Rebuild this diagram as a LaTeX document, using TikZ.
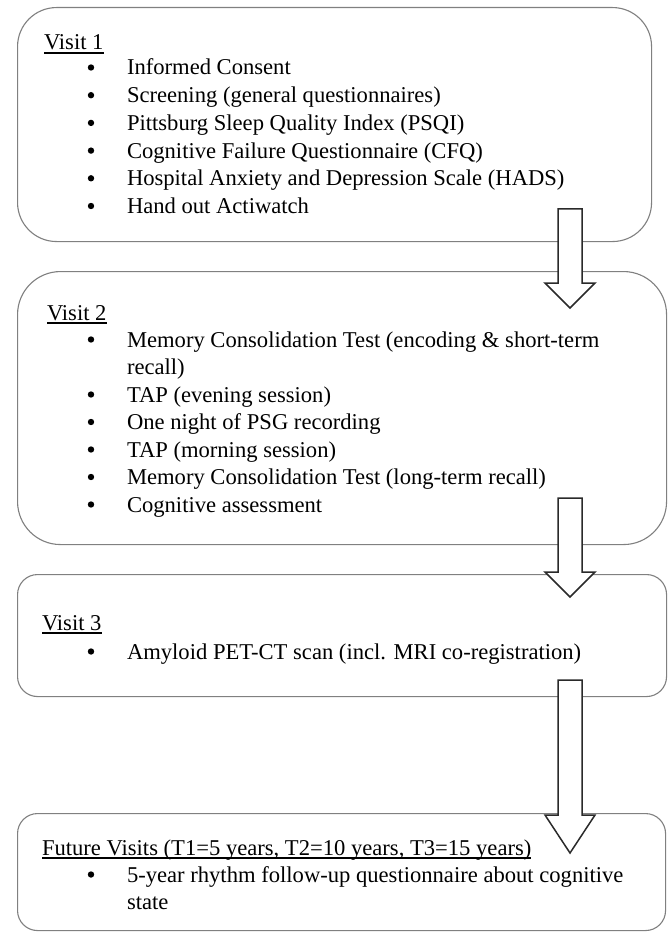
\documentclass[tikz,border=0pt]{standalone}
\usepackage{fontspec}
\setmainfont{Liberation Serif}
\definecolor{boxgray}{HTML}{808080}
\definecolor{arrowdark}{HTML}{2A2A2A}
\newcommand\myul[1]{\setbox0\hbox{#1}\rlap{\vrule height -2.2pt depth 3.7pt width \wd0}\box0}
\tikzset{
  visitbox/.style={draw=boxgray, line width=1.1pt, rectangle, anchor=north west, inner sep=0pt},
  txt/.style={anchor=base west, inner sep=0pt, outer sep=0pt, font=\fontsize{22.6}{27.5}\selectfont},
  dotmark/.style={circle, fill=black, inner sep=0pt, minimum size=6.4pt},
  blockarrow/.style={draw=arrowdark, fill=white, line width=1.5pt, line join=miter}
}
\newcommand\blockarr[4]{% name, top y, head y, tip y  (center x = 570)
  \coordinate (#1-top) at (570,#2);
  \coordinate (#1-tip) at (570,#4);
  \draw[blockarrow] (558,#2) -- (582,#2) -- (582,#3) -- (595,#3) -- (#1-tip)
     -- (545,#3) -- (558,#3) -- cycle;}
\begin{document}
\begin{tikzpicture}[x=1pt,y=-1pt]
\useasboundingbox (0,0) rectangle (670,933);
\fill[white] (0,0) rectangle (670,933);

% boxes
\node[visitbox, rounded corners=39pt, minimum width=634pt, minimum height=234pt] (v1) at (17,7) {};
\node[visitbox, rounded corners=43pt, minimum width=649pt, minimum height=273pt] (v2) at (17,271) {};
\node[visitbox, rounded corners=20pt, minimum width=649pt, minimum height=122pt] (v3) at (17,574) {};
\node[visitbox, rounded corners=20pt, minimum width=648pt, minimum height=117pt] (v4) at (17,813) {};

% Visit 1
\node[txt] (h1) at (44,50) {\myul{Visit 1}};
\foreach \t [count=\i] in {Informed Consent,
  Screening (general questionnaires),
  Pittsburg Sleep Quality Index (PSQI),
  Cognitive Failure Questionnaire (CFQ),
  Hospital Anxiety and Depression Scale (HADS),
  Hand out Actiwatch}{
  \pgfmathsetmacro\yy{75+(\i-1)*27.7}
  \node[dotmark] (d1-\i) at (91,\yy-7.5) {};
  \node[txt] (t1-\i) at (127,\yy) {\t};
}

% Visit 2
\node[txt] (h2) at (47,320) {\myul{Visit 2}};
\node[dotmark] (d2-1) at (91,347-7.5) {};
\node[txt] (t2-1) at (127,347) {Memory Consolidation Test (encoding \& short-term};
\node[txt] (t2-1b) at (127,374.5) {recall)};
\foreach \t [count=\i] in {TAP (evening session),
  One night of PSG recording,
  TAP (morning session),
  Memory Consolidation Test (long-term recall),
  Cognitive assessment}{
  \pgfmathsetmacro\yy{402+(\i-1)*27.5}
  \node[dotmark] (d2-x\i) at (91,\yy-7.5) {};
  \node[txt] (t2-x\i) at (127,\yy) {\t};
}

% Visit 3
\node[txt] (h3) at (42,630) {\myul{Visit 3}};
\node[dotmark] (d3-1) at (91,659-7.5) {};
\node[txt] (t3-1) at (127,659) {Amyloid PET-CT scan (incl. MRI co-registration)};

% Future visits
\node[txt] (h4) at (42,855) {\myul{Future Visits (T1=5 years, T2=10 years, T3=15 years)}};
\node[dotmark] (d4-1) at (91,882-7.5) {};
\node[txt] (t4-1) at (127,882) {5-year rhythm follow-up questionnaire about cognitive};
\node[txt] (t4-1b) at (127,909) {state};

% block arrows
\blockarr{a1}{209}{283}{308}
\blockarr{a2}{498}{572}{597}
\blockarr{a3}{680}{815}{853}
\end{tikzpicture}
\end{document}
